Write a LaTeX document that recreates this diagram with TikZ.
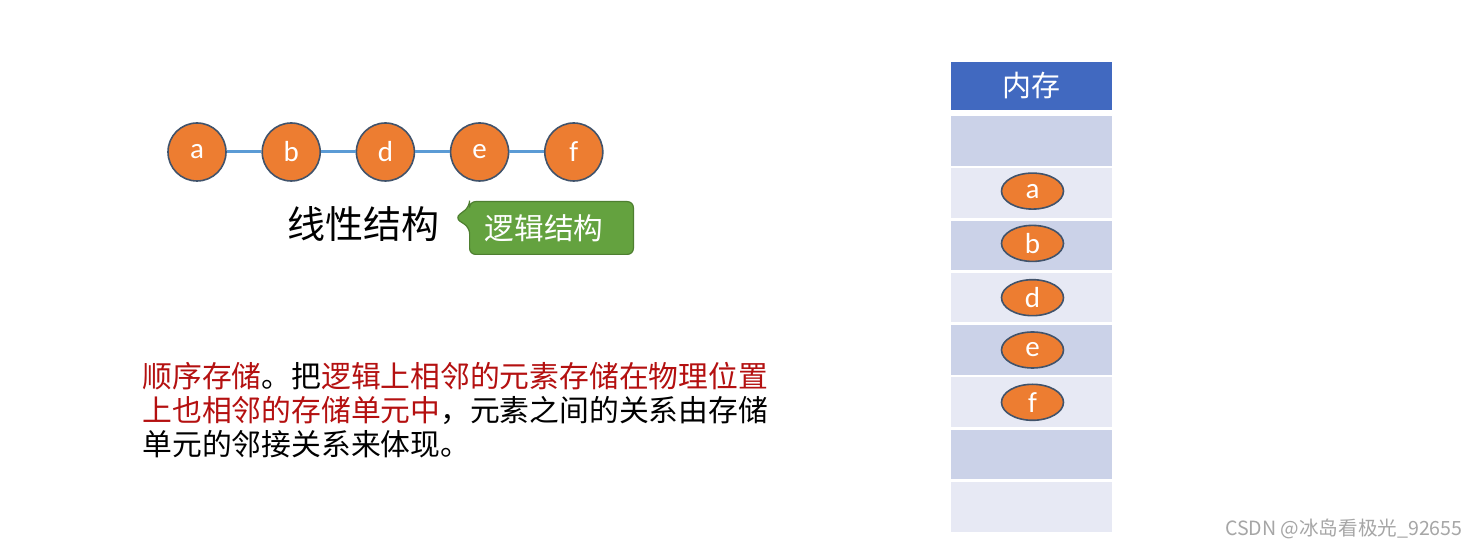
\documentclass[tikz,border=0pt]{standalone}
\usepackage{fontspec}
\setmainfont{Carlito}
\newfontfamily\cjk{Noto Sans CJK SC}
\usepackage{xcolor}
\usetikzlibrary{shapes.geometric,positioning,calc,backgrounds}
\definecolor{elemorange}{HTML}{ED7D31}
\definecolor{elemborder}{HTML}{41536B}
\definecolor{linkblue}{HTML}{5B9BD5}
\definecolor{calloutgreen}{HTML}{64A23F}
\definecolor{calloutborder}{HTML}{4E7F30}
\definecolor{memblue}{HTML}{4169C0}
\definecolor{rowdark}{HTML}{CBD2E8}
\definecolor{rowlight}{HTML}{E7E9F4}
\definecolor{textred}{HTML}{B41010}
\definecolor{markgray}{HTML}{A6A6A6}
\newcommand{\hl}[1]{\textcolor{textred}{#1}}

\begin{document}
\begin{tikzpicture}[
    x=0.5pt, y=-0.5pt,
    node distance=17.3pt,
    elem/.style={circle, draw=elemborder, line width=0.8pt, fill=elemorange, minimum size=29pt, inner sep=0pt, text=white, font=\fontsize{14.5}{14.5}\selectfont},
    link/.style={draw=linkblue, line width=1.5pt},
    cell/.style={rectangle, minimum width=80.5pt, minimum height=24.8pt, inner sep=0pt, outer sep=0pt},
    darkcell/.style={cell, fill=rowdark},
    lightcell/.style={cell, fill=rowlight},
    slot/.style={ellipse, draw=elemborder, line width=0.8pt, fill=elemorange, minimum width=31pt, minimum height=18pt, inner sep=0pt, text=white, font=\fontsize{14.5}{14.5}\selectfont},
    calloutbox/.style={fill=calloutgreen, draw=calloutborder, line width=0.6pt, rounded corners=3pt}
]
\useasboundingbox (0,0) rectangle (1479,549);

% Linear list
\node[elem] (a) at (197,152) {a};
\node[elem, right=of a] (b) {b};
\node[elem, right=of b] (d) {d};
\node[elem, right=of d] (e) {e};
\node[elem, right=of e] (f) {f};
\draw[link] (a) -- (b);
\draw[link] (b) -- (d);
\draw[link] (d) -- (e);
\draw[link] (e) -- (f);

% Caption and callout
\node[font=\cjk\fontsize{19}{19}\selectfont, inner sep=0pt] (linear) at (363,224) {线性结构};
\node[minimum width=81.5pt, minimum height=26pt, inner sep=0pt] (logic) at (551.5,228) {};
\node[font=\cjk\fontsize{14.8}{14.8}\selectfont, text=white, inner sep=0pt] (logictext) at (544,228) {逻辑结构};
\coordinate (tip) at (455,218);
\begin{scope}[on background layer]
\fill[white] (0,0) rectangle (1479,549);
\draw[calloutbox] (tip) -- ($(logic.north west)+(0,5)$) -- (logic.north west) -- (logic.north east) -- (logic.south east) -- (logic.south west) -- ($(logic.north west)+(0,26)$) -- cycle;
\end{scope}

% Description
\node[anchor=north west, align=left, inner sep=0pt, font=\cjk\fontsize{14.9}{17}\selectfont] (desc) at (142,362)
  {\hl{顺序存储}。把\hl{逻辑上相邻的元素存储在物理位置}\\
   \hl{上也相邻的存储单元中}，元素之间的关系由存储\\
   单元的邻接关系来体现。};

% Memory column
\node[rectangle, fill=memblue, minimum width=80.5pt, minimum height=24pt, inner sep=0pt, outer sep=0pt, text=white, font=\cjk\fontsize{14.5}{14.5}\selectfont] (mem) at (1031.5,86) {内存};
\node[darkcell, below=3pt of mem] (row1) {};
\node[lightcell, below=1.35pt of row1] (row2) {};
\node[darkcell, below=1.35pt of row2] (row3) {};
\node[lightcell, below=1.35pt of row3] (row4) {};
\node[darkcell, below=1.35pt of row4] (row5) {};
\node[lightcell, below=1.35pt of row5] (row6) {};
\node[darkcell, below=1.35pt of row6] (row7) {};
\node[lightcell, below=1.35pt of row7] (row8) {};

\node[slot] (slota) at ($(row2)+(1,-2)$) {a};
\node[slot] (slotb) at ($(row3)+(1,-2)$) {b};
\node[slot] (slotd) at ($(row4)+(1,0)$) {d};
\node[slot] (slote) at ($(row5)+(1,0)$) {e};
\node[slot] (slotf) at ($(row6)+(1,0)$) {f};

% Watermark
\node[anchor=east, text=markgray, inner sep=0pt, font=\cjk\fontsize{9.8}{9.8}\selectfont] (mark) at (1463,529) {CSDN @冰岛看极光\_92655};
\end{tikzpicture}
\end{document}
